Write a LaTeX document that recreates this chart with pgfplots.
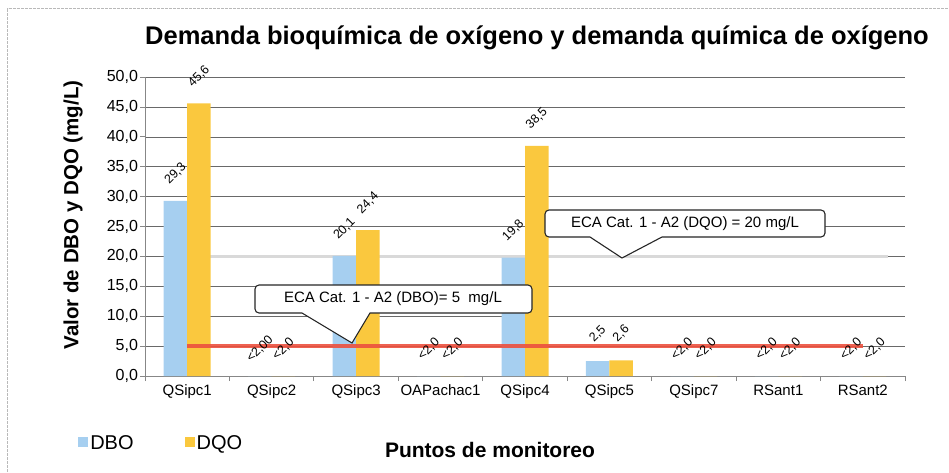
\documentclass[border=0pt]{standalone}
\usepackage{pgfplots}
\pgfplotsset{compat=1.18}
\usepackage{pgfplotstable}
\usepackage{fontspec}
\setmainfont{Liberation Sans}
\definecolor{dbo}{RGB}{166,207,240}
\definecolor{dqo}{RGB}{250,200,62}
\definecolor{ecared}{RGB}{236,80,62}
\definecolor{gridc}{RGB}{105,105,105}
\pgfplotstableread{
x dbo dbolab dqo dqolab
0 29.3 29,3 45.6 45,6
1 0 <2,00 0 <2,0
2 20.1 20,1 24.4 24,4
3 0 <2,0 0 <2,0
4 19.8 19,8 38.5 38,5
5 2.5 2,5 2.6 2,6
6 0 <2,0 0 <2,0
7 0 <2,0 0 <2,0
8 0 <2,0 0 <2,0
}\datatab
\pgfplotsset{
  sqlegend/.style={legend image code/.code={\fill[##1] (0pt,-4.5pt) rectangle (10pt,5.5pt);}},
  lab/.style={every node near coord/.append style={anchor=center, xshift=#1, yshift=27pt, rotate=45, font=\fontsize{12.5}{14}\selectfont, inner sep=0pt}},
}
\begin{document}
\begin{tikzpicture}[x=1pt,y=1pt]
\useasboundingbox (-145,-96) rectangle (804,376);
\draw[gray!55, line width=1pt, dash pattern=on 3pt off 1pt] (-137,-96) -- (-137,367) -- (804,367);
\begin{axis}[
  scale only axis, width=760pt, height=299pt,
  xmin=-0.5, xmax=8.5, ymin=0, ymax=50,
  xtick={0,...,8},
  xticklabels={QSipc1,QSipc2,QSipc3,OAPachac1,QSipc4,QSipc5,QSipc7,RSant1,RSant2},
  minor xtick={-0.5,0.5,...,8.5},
  ytick={0,5,...,50},
  axis x line=bottom, axis y line=left,
  axis line style={-, draw=gridc!80, line width=0.8pt},
  ymajorgrids, grid style={gridc, line width=0.6pt},
  tick align=outside, major tick length=5pt, minor tick length=5pt,
  major x tick style={draw=none},
  minor x tick style={draw=gridc!80, line width=0.8pt},
  ytick style={draw=gridc!80, line width=0.8pt},
  xticklabel style={font=\fontsize{15}{18}\selectfont},
  yticklabel style={font=\fontsize{16}{18}\selectfont, xshift=1.5pt, /pgf/number format/.cd, fixed, fixed zerofill, precision=1, use comma},
  /pgf/number format/assume math mode=true,
  clip=false,
  legend columns=2,
  legend style={at={(-0.092,-0.224)}, anchor=west, draw=none, fill=none,
    font=\fontsize{20}{24}\selectfont,
    /tikz/every even column/.append style={column sep=49pt}},
]
\addplot[gray!30, line width=3pt, forget plot] coordinates {(0,20) (8.3,20)};
\addplot[ybar, bar width=23.5pt, bar shift=-11.75pt, fill=dbo, draw=none,
  nodes near coords, point meta=explicit symbolic, lab=-11.75pt, sqlegend]
  table[x=x, y=dbo, meta=dbolab] {\datatab};
\addlegendentry{DBO}
\addplot[ybar, bar width=23.5pt, bar shift=11.75pt, fill=dqo, draw=none,
  nodes near coords, point meta=explicit symbolic, lab=11.75pt, sqlegend]
  table[x=x, y=dqo, meta=dqolab] {\datatab};
\addlegendentry{DQO}
\addplot[ecared, line width=4pt, opacity=0.9, forget plot] coordinates {(0,5) (8,5)};
\end{axis}
\node[anchor=base, font=\fontsize{25.5}{30}\selectfont\bfseries] at (392,331)
  {Demanda bioquímica de oxígeno y demanda química de oxígeno};
\node[rotate=90, font=\fontsize{20.5}{24}\selectfont\bfseries] at (-72,161)
  {Valor de DBO y DQO (mg/L)};
\node[anchor=base, font=\fontsize{21}{25}\selectfont\bfseries] at (345,-81)
  {Puntos de monitoreo};
% callouts
\draw[fill=white, line width=1.1pt, draw=black!85]
  (477,118) -- (445,139) [rounded corners=4pt] -- (400,139) -- (400,166) -- (680,166) -- (680,139) [sharp corners] -- (517,139) -- cycle;
\node[font=\fontsize{15}{18}\selectfont] at (540,152.5) {ECA Cat. 1 - A2 (DQO) = 20 mg/L};
\draw[fill=white, line width=1.1pt, draw=black!85]
  (207,33) -- (157,63) [rounded corners=4pt] -- (110,63) -- (110,91) -- (387,91) -- (387,63) [sharp corners] -- (225,63) -- cycle;
\node[font=\fontsize{15}{18}\selectfont] at (248,77) {ECA Cat. 1 - A2 (DBO)= 5\ \ mg/L};
\end{tikzpicture}
\end{document}
